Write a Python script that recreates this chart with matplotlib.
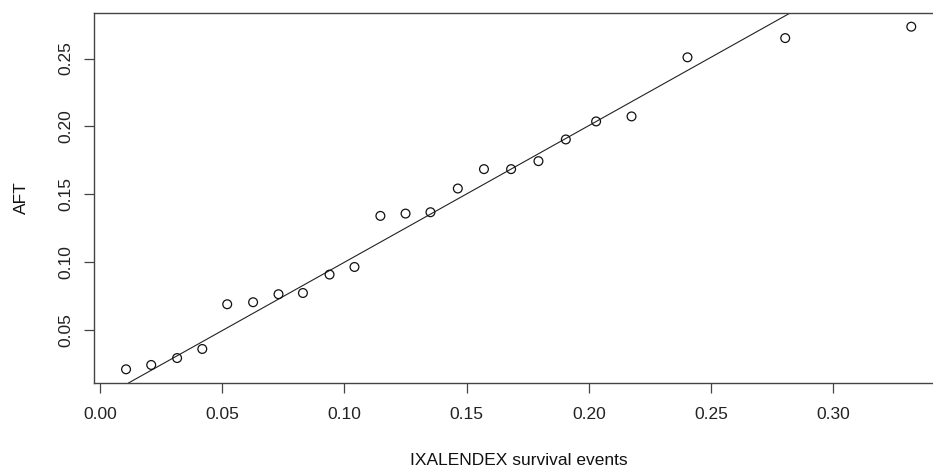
import matplotlib
matplotlib.use("Agg")
from matplotlib import pyplot as plt

plt.rcParams["font.family"] = ["Liberation Sans", "DejaVu Sans"]

# observed quantiles
ixalendex = [0.0106, 0.0209, 0.0315, 0.0418, 0.0520, 0.0626, 0.0730, 0.0830,
             0.0939, 0.1041, 0.1147, 0.1250, 0.1352, 0.1464, 0.1571, 0.1682,
             0.1794, 0.1906, 0.2030, 0.2175, 0.2404, 0.2804, 0.3320]
aft = [0.0207, 0.0239, 0.0290, 0.0357, 0.0687, 0.0702, 0.0761, 0.0770,
       0.0906, 0.0962, 0.1339, 0.1356, 0.1366, 0.1541, 0.1684, 0.1684,
       0.1743, 0.1903, 0.2036, 0.2073, 0.2509, 0.2651, 0.2735]

# fitted line
intercept = -0.0011
slope = 1.008

xticks = [0.00, 0.05, 0.10, 0.15, 0.20, 0.25, 0.30]
yticks = [0.05, 0.10, 0.15, 0.20, 0.25]

fig = plt.figure(figsize=(9.33, 4.73), dpi=100)
ax = fig.add_axes([0.1008, 0.1903, 0.911, 0.7822])

ax.scatter(ixalendex, aft, s=40, facecolors="none", edgecolors="#111111",
           linewidths=0.9, zorder=3)
ax.axline((0, intercept), slope=slope, color="#222222", linewidth=0.8)

ax.set_xlim(-0.0025, 0.3454)
ax.set_ylim(0.0106, 0.2836)
ax.set_xticks(xticks)
ax.set_xticklabels(["%.2f" % v for v in xticks])
ax.set_yticks(yticks)
ax.set_yticklabels(["%.2f" % v for v in yticks], rotation=90, va="center")

for side in ax.spines.values():
    side.set_color("#444444")
    side.set_linewidth(1.0)

ax.tick_params(axis="x", length=7.5, width=0.9, color="#444444", pad=9.9,
               labelsize=12.5, labelcolor="#222222")
ax.tick_params(axis="y", length=7.5, width=0.9, color="#444444", pad=7.4,
               labelsize=12.5, labelcolor="#222222")

ax.set_xlabel("IXALENDEX survival events", fontsize=12.5, color="#111111")
ax.set_ylabel("AFT", fontsize=12.5, color="#111111")
ax.xaxis.set_label_coords(0.5, -0.19)
ax.yaxis.set_label_coords(-0.0765, 0.5)

plt.savefig("out.png", dpi=100)
